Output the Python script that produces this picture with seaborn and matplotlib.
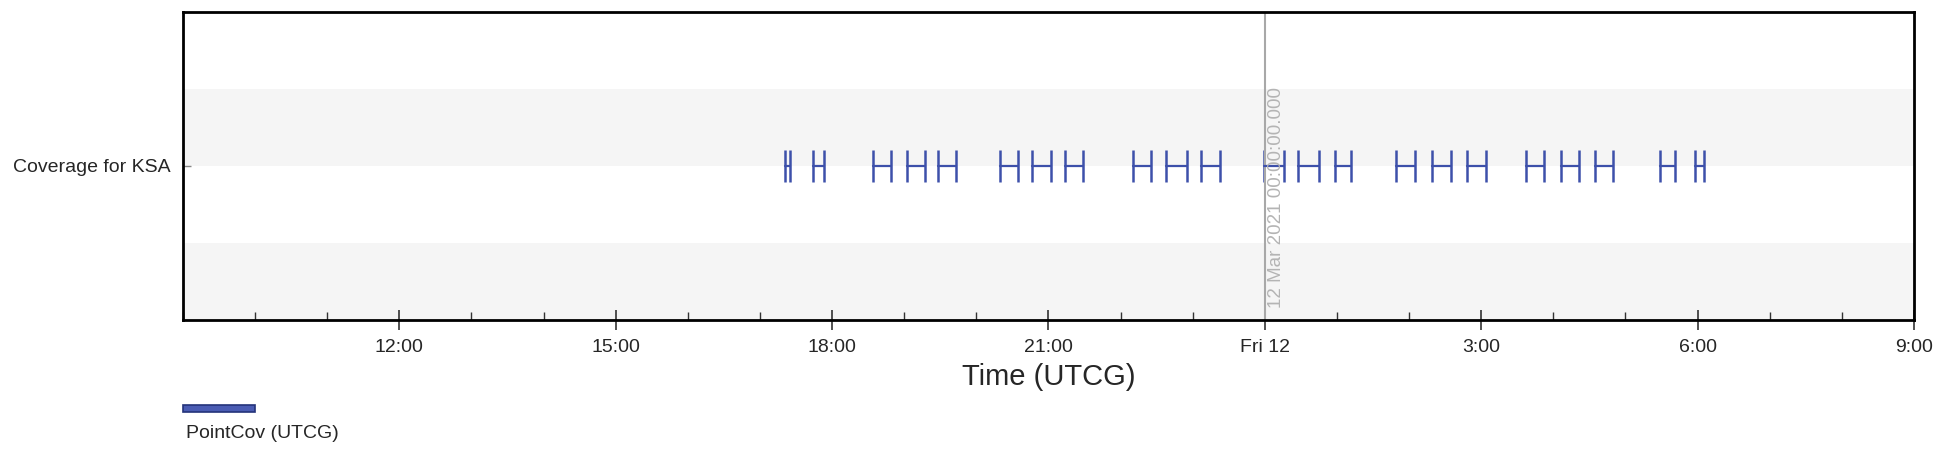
import pandas as pd
import matplotlib.pyplot as plt
import matplotlib.dates as mdates
import matplotlib.patches as mpatches
import seaborn as sns

# coverage intervals (UTCG)
rows = ['Coverage for KSA']
starts = ['2021-03-11 17:21', '2021-03-11 17:44', '2021-03-11 18:34', '2021-03-11 19:02',
          '2021-03-11 19:28', '2021-03-11 20:20', '2021-03-11 20:46', '2021-03-11 21:14',
          '2021-03-11 22:10', '2021-03-11 22:38', '2021-03-11 23:07', '2021-03-11 23:59',
          '2021-03-12 00:28', '2021-03-12 00:58', '2021-03-12 01:49', '2021-03-12 02:19',
          '2021-03-12 02:48', '2021-03-12 03:37', '2021-03-12 04:06', '2021-03-12 04:35',
          '2021-03-12 05:29', '2021-03-12 05:58']
ends = ['2021-03-11 17:25', '2021-03-11 17:53', '2021-03-11 18:49', '2021-03-11 19:17',
        '2021-03-11 19:43', '2021-03-11 20:35', '2021-03-11 21:02', '2021-03-11 21:29',
        '2021-03-11 22:25', '2021-03-11 22:55', '2021-03-11 23:23', '2021-03-12 00:16',
        '2021-03-12 00:45', '2021-03-12 01:12', '2021-03-12 02:05', '2021-03-12 02:35',
        '2021-03-12 03:04', '2021-03-12 03:52', '2021-03-12 04:21', '2021-03-12 04:50',
        '2021-03-12 05:41', '2021-03-12 06:05']

x_start, x_end = '2021-03-11 09:00', '2021-03-12 09:00'
tick_times = ['2021-03-11 12:00', '2021-03-11 15:00', '2021-03-11 18:00', '2021-03-11 21:00',
              '2021-03-12 00:00', '2021-03-12 03:00', '2021-03-12 06:00', '2021-03-12 09:00']
tick_labels = ['12:00', '15:00', '18:00', '21:00', 'Fri 12', '3:00', '6:00', '9:00']
marker_time = '2021-03-12 00:00'
marker_text = '12 Mar 2021 00:00:00.000'

blue = '#3d50aa'

# long format: each pass = start point + end point
recs = []
for i, (s, e) in enumerate(zip(starts, ends)):
    recs.append({'pass': i, 'time': pd.Timestamp(s), 'row': 0})
    recs.append({'pass': i, 'time': pd.Timestamp(e), 'row': 0})
df = pd.DataFrame(recs)

sns.set_style('white')
plt.rcParams['font.family'] = ['Liberation Sans', 'DejaVu Sans']

fig = plt.figure(figsize=(19.38, 4.53), dpi=100)
ax = fig.add_axes([0.0944, 0.2936, 0.8932, 0.68])

# light row stripes
for k in [-1, 0]:
    ax.axhspan(k, k + 0.5, color='#f5f5f5', zorder=0, lw=0)

sns.lineplot(data=df, x='time', y='row', units='pass', estimator=None,
             color=blue, lw=1.6, legend=False, ax=ax)
sns.scatterplot(data=df, x='time', y='row', marker='|', s=560,
                color=blue, linewidth=1.8, legend=False, ax=ax)

# midnight marker line
mt = pd.Timestamp(marker_time)
ax.axvline(mt, color='#a8a8a8', lw=1.5, zorder=1)
ax.annotate(marker_text, xy=(mdates.date2num(mt), 0.04), xycoords=('data', 'axes fraction'),
            xytext=(2, 0), textcoords='offset points', rotation=90,
            ha='left', va='bottom', color='#b4b4b4', fontsize=13.5)

ax.set_xlim(pd.Timestamp(x_start), pd.Timestamp(x_end))
ax.set_ylim(-1, 1)

ax.xaxis.set_major_locator(plt.FixedLocator([mdates.date2num(pd.Timestamp(t)) for t in tick_times]))
ax.xaxis.set_major_formatter(plt.FixedFormatter(tick_labels))
ax.xaxis.set_minor_locator(mdates.HourLocator())
ax.tick_params(axis='x', which='major', direction='inout', length=14, width=1.2, color='#333333',
               labelsize=14, pad=7, bottom=True)
ax.tick_params(axis='x', which='minor', direction='in', length=6, width=1, color='#333333', bottom=True)

ax.set_yticks([0])
ax.set_yticklabels(rows)
ax.tick_params(axis='y', direction='in', length=6, width=1, color='#888888', labelsize=14, pad=9, left=True)

for sp in ax.spines.values():
    sp.set_color('black')
    sp.set_linewidth(2)

ax.set_xlabel('Time (UTCG)', fontsize=21, labelpad=5)
ax.set_ylabel('')

# legend
fig.add_artist(mpatches.Rectangle((183 / 1938, 1 - 412 / 453), 72 / 1938, 7 / 453,
                                  transform=fig.transFigure, facecolor='#4a5cb3',
                                  edgecolor='#24337a', lw=1.2))
fig.text(186 / 1938, 1 - 434 / 453, 'PointCov (UTCG)', fontsize=14, va='center', ha='left')

plt.savefig('out.png', dpi=100)
